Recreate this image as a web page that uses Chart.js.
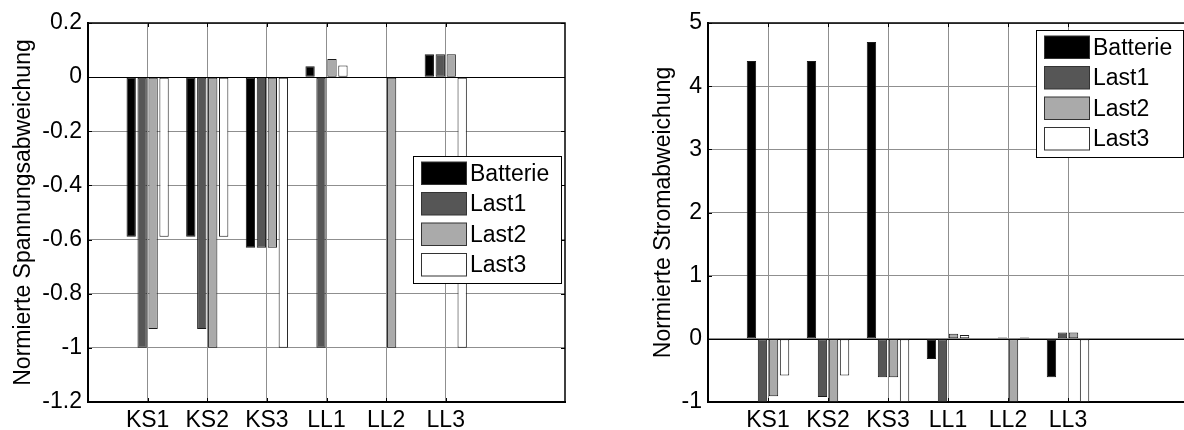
<!DOCTYPE html>
<html><head><meta charset="utf-8">
<script src="https://cdn.jsdelivr.net/npm/chart.js@4/dist/chart.umd.min.js"></script>
<style>
html,body{margin:0;padding:0;background:#fff;width:1184px;height:430px;overflow:hidden;position:relative}
#w1{position:absolute;left:0;top:0;width:590px;height:430px}
#w2{position:absolute;left:640px;top:0;width:560px;height:430px}
</style></head><body>
<div id="w1"><canvas id="c1"></canvas></div>
<div id="w2"><canvas id="c2"></canvas></div>
<script>
// ---- data ----
const categories = ['KS1', 'KS2', 'KS3', 'LL1', 'LL2', 'LL3'];
const seriesNames = ['Batterie', 'Last1', 'Last2', 'Last3'];
const voltageBatterie = [-0.59, -0.59, -0.63, 0.04, 0, 0.085];
const voltageLast1 = [-1.0, -0.93, -0.63, -1.0, 0, 0.085];
const voltageLast2 = [-0.93, -1.0, -0.63, 0.067, -1.0, 0.085];
const voltageLast3 = [-0.59, -0.59, -1.0, 0.043, 0, -1.0];
const currentBatterie = [4.4, 4.4, 4.7, -0.32, 0, -0.61];
const currentLast1 = [-1.0, -0.92, -0.61, -1.0, 0.02, 0.1];
const currentLast2 = [-0.91, -1.0, -0.61, 0.08, -1.0, 0.1];
const currentLast3 = [-0.58, -0.58, -1.0, 0.06, 0.02, -1.0];
const voltageTicks = {min: -1.2, max: 0.2, step: 0.2};
const currentTicks = {min: -1, max: 5, step: 1};
const yTitleLeft = 'Normierte Spannungsabweichung';
const yTitleRight = 'Normierte Stromabweichung';

// ---- styling ----
const FONT = '"Liberation Sans", Arial, Helvetica, sans-serif';
const FS = 23;
const fills = ['#000000', '#565656', '#aaaaaa', '#ffffff'];
const gridColor = '#8f8f8f';
const xLabels = ['', ...categories, '', ''];
const pad = arr => [null, ...arr, null, null];

function datasets(series) {
  return series.map((arr, i) => ({
    label: seriesNames[i],
    data: pad(arr),
    backgroundColor: fills[i],
    borderColor: '#1a1a1a',
    borderWidth: 1,
    borderSkipped: false,
    categoryPercentage: 0.735,
    barPercentage: 0.85
  }));
}

const framePlugin = {
  id: 'frame',
  beforeDatasetsDraw(chart) {
    const {ctx, chartArea: a, scales: {y}} = chart;
    const y0 = Math.round(y.getPixelForValue(0)) + 0.5;
    ctx.save();
    ctx.strokeStyle = '#000';
    ctx.lineWidth = 1;
    ctx.beginPath(); ctx.moveTo(a.left, y0); ctx.lineTo(a.right, y0); ctx.stroke();
    ctx.restore();
  },
  afterDatasetsDraw(chart) {
    const {ctx, chartArea: a, scales: {x, y}} = chart;
    ctx.save();
    ctx.strokeStyle = '#000';
    ctx.lineWidth = 1.5;
    ctx.beginPath();
    ctx.moveTo(a.left, a.top); ctx.lineTo(a.right, a.top); ctx.lineTo(a.right, a.bottom);
    ctx.stroke();
    ctx.lineWidth = 1;
    ctx.beginPath();
    for (let i = 1; i <= categories.length; i++) {
      const px = Math.round(x.getPixelForValue(i)) + 0.5;
      ctx.moveTo(px, a.bottom); ctx.lineTo(px, a.bottom - 4);
      ctx.moveTo(px, a.top); ctx.lineTo(px, a.top + 4);
    }
    y.ticks.forEach(t => {
      const py = Math.round(y.getPixelForValue(t.value)) + 0.5;
      ctx.moveTo(a.left, py); ctx.lineTo(a.left + 4, py);
      ctx.moveTo(a.right, py); ctx.lineTo(a.right - 4, py);
    });
    ctx.stroke();
    ctx.restore();
  },
  afterDraw(chart, args, opts) {
    const b = opts.box;
    if (!b) return;
    const ctx = chart.ctx;
    ctx.save();
    ctx.fillStyle = '#fff';
    ctx.fillRect(b.x, b.y, b.w, b.h);
    ctx.strokeStyle = '#000';
    ctx.lineWidth = 1;
    ctx.strokeRect(b.x + 0.5, b.y + 0.5, b.w, b.h);
    ctx.font = FS + 'px ' + FONT;
    ctx.textBaseline = 'middle';
    ctx.textAlign = 'left';
    chart.data.datasets.forEach((ds, i) => {
      const sy = b.y + 6 + i * 30.5;
      ctx.fillStyle = ds.backgroundColor;
      ctx.fillRect(b.x + 8.5, sy, 45, 22.5);
      ctx.strokeStyle = '#333';
      ctx.strokeRect(b.x + 8.5, sy, 45, 22.5);
      ctx.fillStyle = '#000';
      ctx.fillText(ds.label, b.x + 57, sy + 12.5);
    });
    ctx.restore();
  }
};

function options(t, title, yWidth, padRight, box) {
  return {
    responsive: true,
    maintainAspectRatio: false,
    animation: false,
    layout: {padding: {top: 23, right: padRight, bottom: 0, left: 0}},
    plugins: {legend: {display: false}, tooltip: {enabled: false}, frame: {box}},
    scales: {
      x: {
        type: 'category',
        offset: false,
        grid: {
          offset: false,
          drawTicks: false,
          lineWidth: 1,
          color: c => (c.index >= 1 && c.index <= categories.length) ? gridColor : 'rgba(0,0,0,0)'
        },
        border: {display: true, color: '#000', width: 2},
        ticks: {autoSkip: false, maxRotation: 0, minRotation: 0, padding: 5,
                color: '#000', font: {family: FONT, size: FS}},
        afterFit: s => { s.height = 28; }
      },
      y: {
        min: t.min, max: t.max,
        grid: {drawTicks: false, color: gridColor, lineWidth: 1},
        border: {display: true, color: '#000', width: 2},
        ticks: {stepSize: t.step, padding: 6, color: '#000',
                font: {family: FONT, size: FS},
                callback: v => String(Number(v.toFixed(1)))},
        title: {display: true, text: title, color: '#000',
                font: {family: FONT, size: FS}, padding: {top: 10, bottom: 0}},
        afterFit: s => { s.width = yWidth; }
      }
    }
  };
}

new Chart(document.getElementById('c1'), {
  type: 'bar',
  data: {labels: xLabels, datasets: datasets([voltageBatterie, voltageLast1, voltageLast2, voltageLast3])},
  options: options(voltageTicks, yTitleLeft, 88, 25, {x: 413, y: 156, w: 148, h: 127}),
  plugins: [framePlugin]
});

new Chart(document.getElementById('c2'), {
  type: 'bar',
  data: {labels: xLabels, datasets: datasets([currentBatterie, currentLast1, currentLast2, currentLast3])},
  options: options(currentTicks, yTitleRight, 68, 12, {x: 396, y: 30, w: 147, h: 127}),
  plugins: [framePlugin]
});
</script>
</body></html>
